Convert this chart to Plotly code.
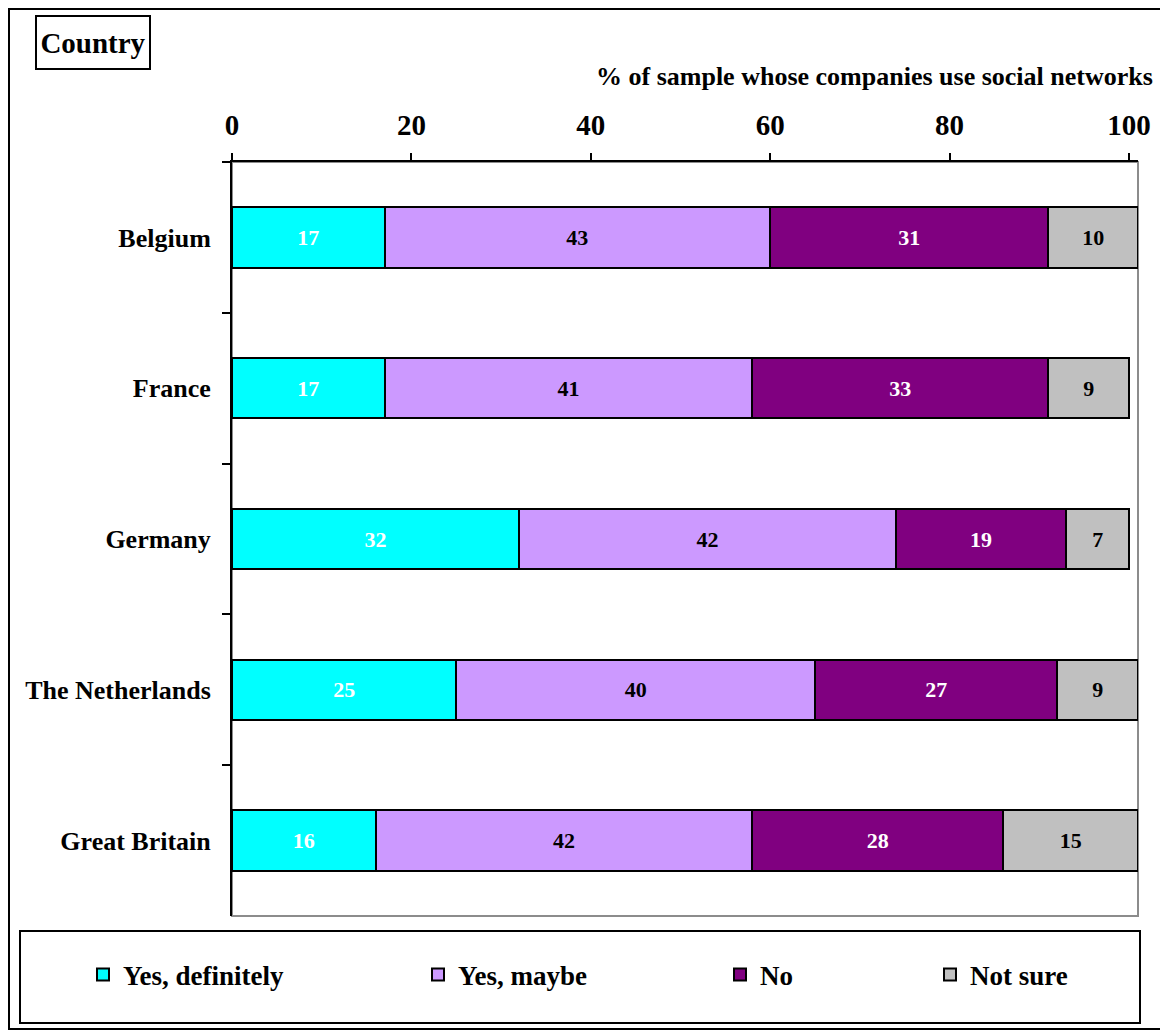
import plotly.graph_objects as go

countries = ["Belgium", "France", "Germany", "The Netherlands", "Great Britain"]
series_names = ["Yes, definitely", "Yes, maybe", "No", "Not sure"]
yes_definitely = [17, 17, 32, 25, 16]
yes_maybe = [43, 41, 42, 40, 42]
no = [31, 33, 19, 27, 28]
not_sure = [10, 9, 7, 9, 15]
x_ticks = [0, 20, 40, 60, 80, 100]
axis_title = "% of sample whose companies use social networks"
box_title = "Country"

series_values = [yes_definitely, yes_maybe, no, not_sure]
colors = ["#00FFFF", "#CC99FF", "#800080", "#C0C0C0"]
label_colors = ["white", "black", "white", "black"]
legend_ids = ["legend", "legend2", "legend3", "legend4"]

FONT = "Liberation Serif"

W, H = 1168, 1032
OFF = 8  # page body margin offset
# plot area in page pixels
PX0, PX1, PY0, PY1 = 232, 1138, 162, 916
PW = PX1 - PX0
PH = PY1 - PY0
ML = PX0 - OFF
MT = PY0 - OFF
MR = W - ML - PW
MB = H - MT - PH


def px2x(px):
    return (px - PX0) / PW


def py2y(py):
    return (PY1 - py) / PH


fig = go.Figure()
for name, vals, col, lc, lid in zip(series_names, series_values, colors, label_colors, legend_ids):
    fig.add_trace(go.Bar(
        y=countries, x=vals, name=name, orientation="h",
        marker=dict(color=col, line=dict(color="black", width=2)),
        text=[str(v) for v in vals], textposition="inside",
        insidetextanchor="middle", textangle=0, constraintext="none",
        textfont=dict(family=FONT, size=22, color=lc, weight="bold"),
        legend=lid, hoverinfo="skip",
    ))

legend_common = dict(
    orientation="h", xanchor="left", yanchor="middle", y=py2y(975),
    bgcolor="rgba(0,0,0,0)", borderwidth=0,
    font=dict(family=FONT, size=27, color="black", weight="bold"),
)
legend_text_starts = [123, 458, 760, 970]
layout_legends = {}
for lid, ts in zip(legend_ids, legend_text_starts):
    layout_legends[lid] = dict(legend_common, x=px2x(ts - 40))

fig.update_layout(
    width=W, height=H,
    margin=dict(l=ML, r=MR, t=MT, b=MB),
    paper_bgcolor="white", plot_bgcolor="white",
    barmode="stack", bargap=0.6,
    font=dict(family=FONT, color="black", weight="bold"),
    showlegend=True,
    **layout_legends,
    xaxis=dict(
        side="top", range=[0, 101], tickvals=x_ticks, ticktext=[str(t) for t in x_ticks],
        showgrid=False, zeroline=False, showline=True, linecolor="black", linewidth=2,
        ticks="outside", ticklen=7, tickwidth=2, tickcolor="black",
        tickfont=dict(family=FONT, size=29, color="black", weight="bold"),
        ticklabelstandoff=6, fixedrange=True,
    ),
    yaxis=dict(
        autorange="reversed", showgrid=False, zeroline=False,
        showline=True, linecolor="black", linewidth=2,
        ticks="outside", tickson="boundaries", ticklen=8, tickwidth=2, tickcolor="black",
        tickfont=dict(family=FONT, size=26, color="black", weight="bold"),
        ticklabelstandoff=14, fixedrange=True,
    ),
    shapes=[
        # plot area border (gray right/bottom)
        dict(type="rect", xref="paper", yref="paper", x0=0, x1=1, y0=0, y1=1,
             line=dict(color="#8C8C8C", width=2), layer="below"),
        # legend box
        dict(type="rect", xref="paper", yref="paper",
             x0=px2x(20), x1=px2x(1140), y0=py2y(1023), y1=py2y(931),
             line=dict(color="black", width=2), fillcolor="rgba(0,0,0,0)"),
        # outer chart frame
        dict(type="rect", xref="paper", yref="paper",
             x0=px2x(OFF + 1), x1=px2x(1161), y0=py2y(1029), y1=py2y(OFF + 1),
             line=dict(color="black", width=2), fillcolor="rgba(0,0,0,0)"),
    ],
    annotations=[
        dict(text=axis_title, xref="paper", yref="paper", x=px2x(1155), y=py2y(77),
             xanchor="right", yanchor="middle", showarrow=False,
             font=dict(family=FONT, size=26, color="black", weight="bold")),
        dict(text=box_title, xref="paper", yref="paper", x=px2x(93), y=py2y(42.5),
             xanchor="center", yanchor="middle", showarrow=False,
             width=112, height=51, align="center", valign="middle",
             bordercolor="black", borderwidth=2, borderpad=0, bgcolor="white",
             font=dict(family=FONT, size=29, color="black", weight="bold")),
    ],
)

fig.write_html("out.html")
